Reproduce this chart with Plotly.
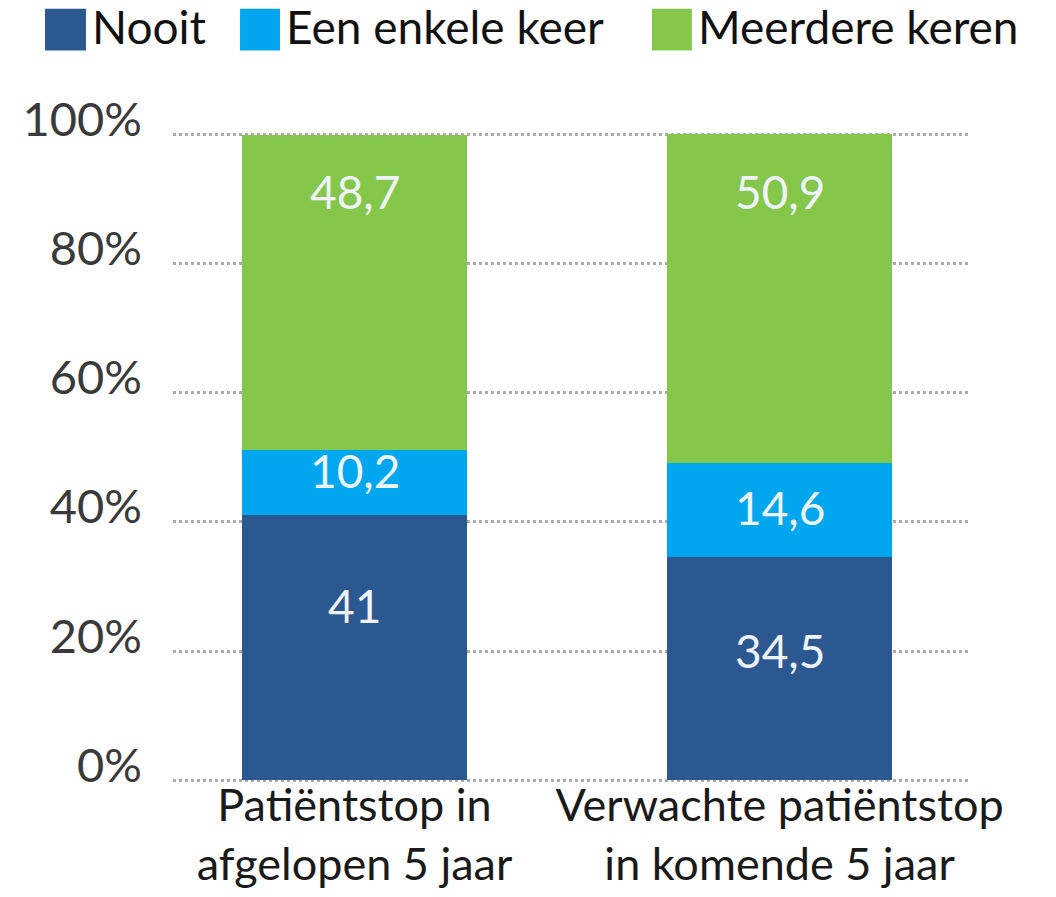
import plotly.graph_objects as go

categories = ["Patiëntstop in<br>afgelopen 5 jaar", "Verwachte patiëntstop<br>in komende 5 jaar"]
series_names = ["Nooit", "Een enkele keer", "Meerdere keren"]
nooit = [41, 34.5]
enkele = [10.2, 14.6]
meerdere = [48.7, 50.9]
y_ticks = [0, 20, 40, 60, 80, 100]
y_tick_labels = ["0%", "20%", "40%", "60%", "80%", "100%"]

colors = ["#2C5891", "#00A7EF", "#84C74B"]
values = [nooit, enkele, meerdere]
# label centre heights (in % units)
label_y = [[27.0, 20.1], [47.9, 42.2], [91.2, 91.2]]

FONT = "Lato"

fig = go.Figure()
for name, vals, col in zip(series_names, values, colors):
    fig.add_trace(go.Bar(
        x=categories, y=vals, name=name, marker=dict(color=col, line=dict(width=0)),
        width=0.529, showlegend=False, textposition="none",
    ))

annotations = []
for vals, ys in zip(values, label_y):
    for cat, v, yy in zip(categories, vals, ys):
        annotations.append(dict(
            x=cat, y=yy, xref="x", yref="y", text=f"{v:g}".replace(".", ","),
            showarrow=False, font=dict(family=FONT, size=46, color="#EEF4FA"),
            xanchor="center", yanchor="middle",
        ))

# manual legend (paper coordinates)
legend_x = [(-0.1606, -0.1092), (0.0841, 0.1343), (0.601, 0.651)]
shapes = []
for (x0, x1), name, col in zip(legend_x, series_names, colors):
    shapes.append(dict(type="rect", xref="paper", yref="paper", x0=x0, x1=x1,
                       y0=1.120, y1=1.184, fillcolor=col, line=dict(width=0)))
    annotations.append(dict(x=x1 + 0.005, y=1.156, xref="paper", yref="paper", text=name,
                            showarrow=False, xanchor="left", yanchor="middle",
                            font=dict(family=FONT, size=46, color="#111111")))

fig.update_layout(
    width=1056, height=897,
    margin=dict(l=173, r=86, t=129, b=114),
    barmode="stack", bargap=0,
    plot_bgcolor="white", paper_bgcolor="white",
    annotations=annotations, shapes=shapes,
    showlegend=False,
    xaxis=dict(type="category", range=[-0.427, 1.448], showgrid=False, zeroline=False,
               showline=False, ticks="", automargin=False, ticklabelstandoff=-8,
               tickfont=dict(family=FONT, size=45, color="#1A1A1A")),
    yaxis=dict(range=[-0.4, 100.8], tickvals=y_ticks, ticktext=y_tick_labels,
               showgrid=True, gridcolor="#ABABAB", griddash="dot", gridwidth=2.5,
               zeroline=False, showline=False, ticks="", automargin=False,
               ticklabelstandoff=30, ticklabelshift=-15,
               tickfont=dict(family=FONT, size=47, color="#3A3A3A")),
)

fig.write_html("out.html", config={"displayModeBar": False},
               post_script="document.body.style.margin='0';")
